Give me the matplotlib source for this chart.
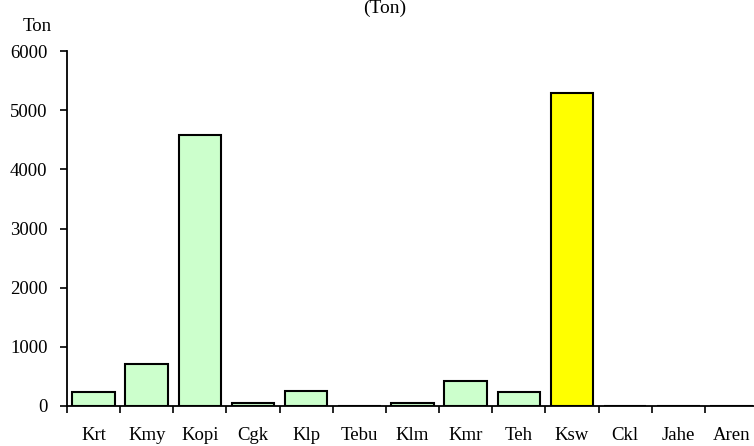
import matplotlib
matplotlib.use("Agg")
import matplotlib.pyplot as plt
import numpy as np

categories = ["Krt", "Kmy", "Kopi", "Cgk", "Klp", "Tebu", "Klm", "Kmr", "Teh", "Ksw", "Ckl", "Jahe", "Aren"]
values = [230, 703, 4582, 56, 258, 0, 56, 427, 231, 5283, 0, 0, 0]
highlight = "Ksw"
y_ticks = [0, 1000, 2000, 3000, 4000, 5000, 6000]

plt.rcParams['font.family'] = ['Liberation Serif', 'DejaVu Serif']

fig = plt.figure(figsize=(7.54, 4.46), dpi=100)
ax = fig.add_axes([67/754, 40/446, (758-67)/754, (406-51)/446])

x = np.arange(len(categories))
colors = ["#FFFF00" if c == highlight else "#CCFFCC" for c in categories]
ax.bar(x, values, width=0.8, color=colors, edgecolor="black", linewidth=1.5, zorder=3)

ax.set_xlim(-0.5, len(categories) - 0.5)
ax.set_ylim(0, 6000)
ax.set_yticks(y_ticks)
ax.set_yticklabels([str(v) for v in y_ticks], fontsize=13.5)

ax.set_xticks(np.arange(-0.5, len(categories), 1.0))
ax.set_xticklabels([])
ax.set_xticks(x, minor=True)
ax.set_xticklabels(categories, minor=True, fontsize=13.5)
ax.tick_params(axis='x', which='major', direction='out', length=5, width=1.2)
ax.tick_params(axis='x', which='minor', length=0, pad=15)
ax.tick_params(axis='y', direction='out', length=5, width=1.2, pad=9)

for s in ['top', 'right']:
    ax.spines[s].set_visible(False)
for s in ['left', 'bottom']:
    ax.spines[s].set_linewidth(1.3)
ax.spines['bottom'].set_zorder(4)

fig.text(23/754, 1 - 31/446, "Ton", fontsize=13.5, ha='left', va='baseline')
fig.text(385/754, 1 - 13/446, "(Ton)", fontsize=14, ha='center', va='baseline')

fig.savefig("out.png", dpi=100)
